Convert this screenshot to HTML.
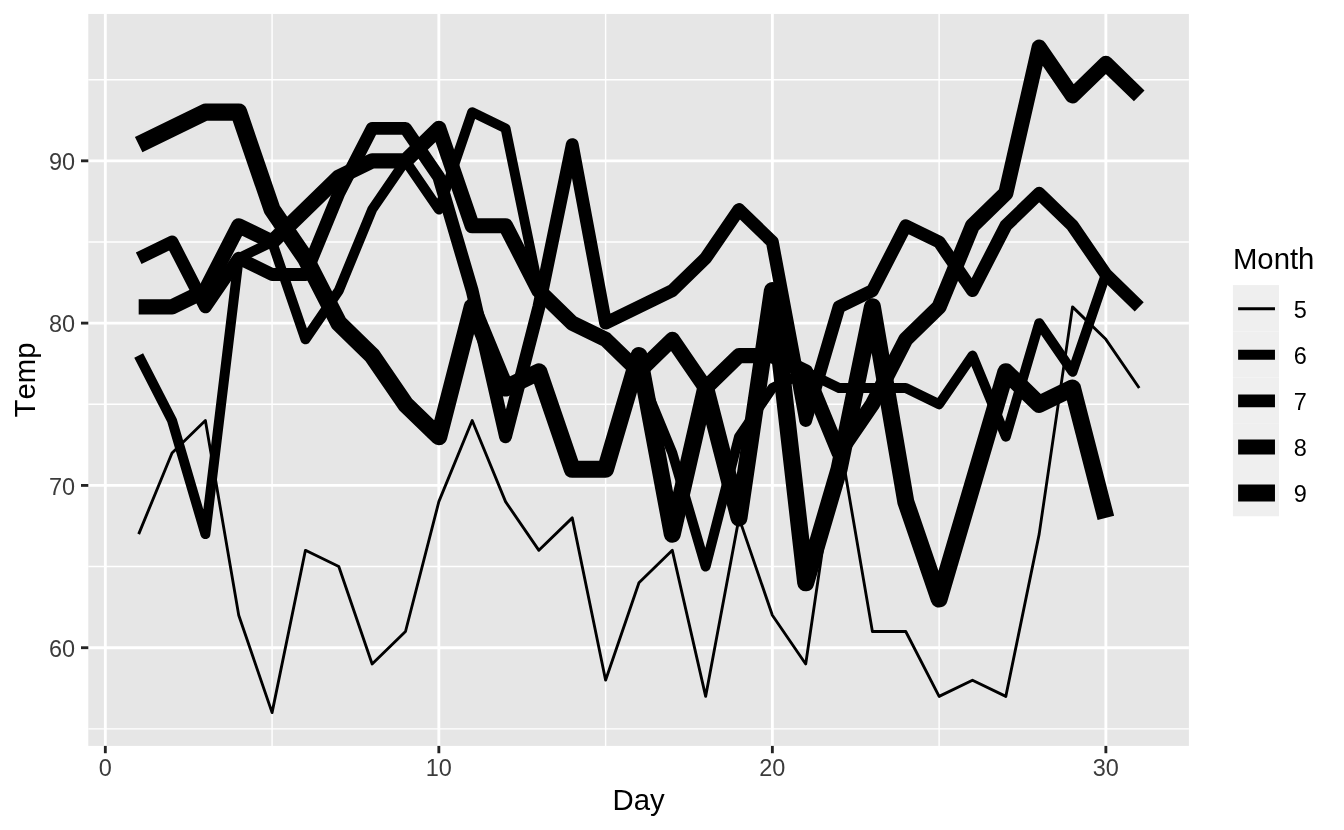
<!DOCTYPE html>
<html><head><meta charset="utf-8"><title>Temp by Day</title>
<style>html,body{margin:0;padding:0;background:#fff}svg{display:block}</style></head>
<body>
<svg width="1344" height="830" viewBox="0 0 1344 830">
<rect width="1344" height="830" fill="#fff"/>
<rect x="88.3" y="13.95" width="1100.60" height="731.95" fill="#E6E6E6"/>
<g stroke="#fff" stroke-width="1.42" fill="none">
<line x1="88.3" x2="1188.9" y1="728.86" y2="728.86"/>
<line x1="88.3" x2="1188.9" y1="566.56" y2="566.56"/>
<line x1="88.3" x2="1188.9" y1="404.27" y2="404.27"/>
<line x1="88.3" x2="1188.9" y1="241.97" y2="241.97"/>
<line x1="88.3" x2="1188.9" y1="79.68" y2="79.68"/>
<line y1="13.95" y2="745.9" x1="272.08" x2="272.08"/>
<line y1="13.95" y2="745.9" x1="605.60" x2="605.60"/>
<line y1="13.95" y2="745.9" x1="939.11" x2="939.11"/>
</g>
<g stroke="#fff" stroke-width="2.85" fill="none">
<line x1="88.3" x2="1188.9" y1="647.71" y2="647.71"/>
<line x1="88.3" x2="1188.9" y1="485.42" y2="485.42"/>
<line x1="88.3" x2="1188.9" y1="323.12" y2="323.12"/>
<line x1="88.3" x2="1188.9" y1="160.83" y2="160.83"/>
<line y1="13.95" y2="745.9" x1="105.33" x2="105.33"/>
<line y1="13.95" y2="745.9" x1="438.84" x2="438.84"/>
<line y1="13.95" y2="745.9" x1="772.36" x2="772.36"/>
<line y1="13.95" y2="745.9" x1="1105.87" x2="1105.87"/>
</g>
<g stroke="#000" fill="none" stroke-linejoin="round" stroke-linecap="butt">
<polyline stroke-width="2.85" points="138.68,534.11 172.03,452.96 205.38,420.50 238.73,615.25 272.08,712.63 305.43,550.33 338.79,566.56 372.14,663.94 405.49,631.48 438.84,501.65 472.19,420.50 505.54,501.65 538.90,550.33 572.25,517.88 605.60,680.17 638.95,582.79 672.30,550.33 705.65,696.40 739.00,517.88 772.36,615.25 805.71,663.94 839.06,436.73 872.41,631.48 905.76,631.48 939.11,696.40 972.47,680.17 1005.82,696.40 1039.17,534.11 1072.52,306.89 1105.87,339.35 1139.22,388.04"/>
<polyline stroke-width="9.96" points="138.68,355.58 172.03,420.50 205.38,534.11 238.73,258.20 272.08,241.97 305.43,339.35 338.79,290.66 372.14,209.52 405.49,160.83 438.84,209.52 472.19,112.14 505.54,128.37 538.90,290.66 572.25,323.12 605.60,339.35 638.95,371.81 672.30,452.96 705.65,566.56 739.00,436.73 772.36,388.04 805.71,371.81 839.06,388.04 872.41,388.04 905.76,388.04 939.11,404.27 972.47,355.58 1005.82,436.73 1039.17,323.12 1072.52,371.81 1105.87,274.43"/>
<polyline stroke-width="12.90" points="138.68,258.20 172.03,241.97 205.38,306.89 238.73,258.20 272.08,274.43 305.43,274.43 338.79,193.29 372.14,128.37 405.49,128.37 438.84,177.06 472.19,290.66 505.54,436.73 538.90,306.89 572.25,144.60 605.60,323.12 638.95,306.89 672.30,290.66 705.65,258.20 739.00,209.52 772.36,241.97 805.71,420.50 839.06,306.89 872.41,290.66 905.76,225.74 939.11,241.97 972.47,290.66 1005.82,225.74 1039.17,193.29 1072.52,225.74 1105.87,274.43 1139.22,306.89"/>
<polyline stroke-width="15.17" points="138.68,306.89 172.03,306.89 205.38,290.66 238.73,225.74 272.08,241.97 305.43,209.52 338.79,177.06 372.14,160.83 405.49,160.83 438.84,128.37 472.19,225.74 505.54,225.74 538.90,290.66 572.25,323.12 605.60,339.35 638.95,371.81 672.30,339.35 705.65,388.04 739.00,355.58 772.36,355.58 805.71,371.81 839.06,452.96 872.41,404.27 905.76,339.35 939.11,306.89 972.47,225.74 1005.82,193.29 1039.17,47.22 1072.52,95.91 1105.87,63.45 1139.22,95.91"/>
<polyline stroke-width="17.07" points="138.68,144.60 172.03,128.37 205.38,112.14 238.73,112.14 272.08,209.52 305.43,258.20 338.79,323.12 372.14,355.58 405.49,404.27 438.84,436.73 472.19,306.89 505.54,388.04 538.90,371.81 572.25,469.19 605.60,469.19 638.95,355.58 672.30,534.11 705.65,388.04 739.00,517.88 772.36,290.66 805.71,582.79 839.06,469.19 872.41,306.89 905.76,501.65 939.11,599.02 972.47,485.42 1005.82,371.81 1039.17,404.27 1072.52,388.04 1105.87,517.88"/>
</g>
<g stroke="#242424" stroke-width="2.85" fill="none">
<line x1="80.97" x2="88.3" y1="647.71" y2="647.71"/>
<line x1="80.97" x2="88.3" y1="485.42" y2="485.42"/>
<line x1="80.97" x2="88.3" y1="323.12" y2="323.12"/>
<line x1="80.97" x2="88.3" y1="160.83" y2="160.83"/>
<line y1="745.9" y2="753.23" x1="105.33" x2="105.33"/>
<line y1="745.9" y2="753.23" x1="438.84" x2="438.84"/>
<line y1="745.9" y2="753.23" x1="772.36" x2="772.36"/>
<line y1="745.9" y2="753.23" x1="1105.87" x2="1105.87"/>
</g>
<g font-family="Liberation Sans, Arial, Helvetica, sans-serif" font-size="23.47" fill="#3B3B3B">
<text x="75.10" y="656.81" text-anchor="end">60</text>
<text x="75.10" y="494.52" text-anchor="end">70</text>
<text x="75.10" y="332.22" text-anchor="end">80</text>
<text x="75.10" y="169.93" text-anchor="end">90</text>
<text x="105.33" y="775.6" text-anchor="middle">0</text>
<text x="438.84" y="775.6" text-anchor="middle">10</text>
<text x="772.36" y="775.6" text-anchor="middle">20</text>
<text x="1105.87" y="775.6" text-anchor="middle">30</text>
</g>
<g font-family="Liberation Sans, Arial, Helvetica, sans-serif" font-size="29.33" fill="#000" style="font-kerning:none">
<text x="638.60" y="809.9" text-anchor="middle">Day</text>
<text transform="translate(35.3,379.93) rotate(-90)" text-anchor="middle">Temp</text>
<text x="1232.9" y="268.7">Month</text>
</g>
<rect x="1232.9" y="285.10" width="46.08" height="46.23" fill="#EFEFEF"/>
<rect x="1232.9" y="331.33" width="46.08" height="46.23" fill="#EFEFEF"/>
<rect x="1232.9" y="377.56" width="46.08" height="46.23" fill="#EFEFEF"/>
<rect x="1232.9" y="423.79" width="46.08" height="46.23" fill="#EFEFEF"/>
<rect x="1232.9" y="470.02" width="46.08" height="46.23" fill="#EFEFEF"/>
<line x1="1238.11" x2="1274.97" y1="308.74" y2="308.74" stroke="#000" stroke-width="2.85"/>
<text x="1293.65" y="317.64" font-family="Liberation Sans, Arial, Helvetica, sans-serif" font-size="23.47" fill="#000">5</text>
<line x1="1238.11" x2="1274.97" y1="354.82" y2="354.82" stroke="#000" stroke-width="9.96"/>
<text x="1293.65" y="363.72" font-family="Liberation Sans, Arial, Helvetica, sans-serif" font-size="23.47" fill="#000">6</text>
<line x1="1238.11" x2="1274.97" y1="400.90" y2="400.90" stroke="#000" stroke-width="12.90"/>
<text x="1293.65" y="409.80" font-family="Liberation Sans, Arial, Helvetica, sans-serif" font-size="23.47" fill="#000">7</text>
<line x1="1238.11" x2="1274.97" y1="446.98" y2="446.98" stroke="#000" stroke-width="15.17"/>
<text x="1293.65" y="455.88" font-family="Liberation Sans, Arial, Helvetica, sans-serif" font-size="23.47" fill="#000">8</text>
<line x1="1238.11" x2="1274.97" y1="493.06" y2="493.06" stroke="#000" stroke-width="17.07"/>
<text x="1293.65" y="501.96" font-family="Liberation Sans, Arial, Helvetica, sans-serif" font-size="23.47" fill="#000">9</text>
</svg>
</body></html>
